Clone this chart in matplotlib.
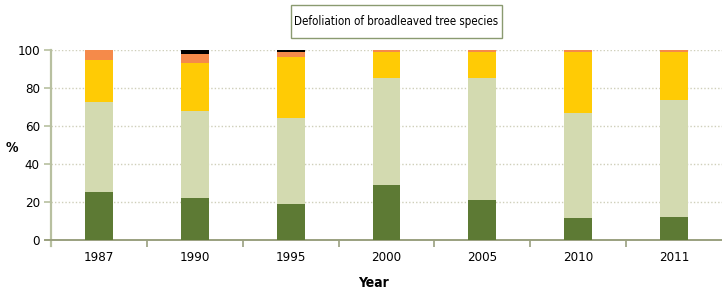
import matplotlib
matplotlib.use("Agg")
import matplotlib.pyplot as plt
from matplotlib.patches import Rectangle

plt.rcParams['font.family'] = ['DejaVu Sans']
plt.rcParams['font.stretch'] = 'condensed'

years = ["1987", "1990", "1995", "2000", "2005", "2010", "2011"]
class0 = [25.5, 22.3, 19.2, 29.2, 20.8, 11.8, 12.3]
class1 = [47.0, 45.5, 44.9, 56.2, 64.6, 54.9, 61.3]
class2 = [22.2, 25.3, 32.1, 13.4, 13.4, 32.1, 25.2]
class3 = [5.3, 4.8, 2.6, 1.2, 1.2, 1.2, 1.2]
class4 = [0.0, 2.1, 1.2, 0.0, 0.0, 0.0, 0.0]

series = [class0, class1, class2, class3, class4]
colors = ["#5d7a34", "#d3dab0", "#ffcb05", "#f58a4a", "#000000"]

fig = plt.figure(figsize=(7.22, 2.9), dpi=100)
ax = fig.add_axes([51/722, 50/290, 671/722, 190/290])

x = range(len(years))
bottom = [0.0]*len(years)
for vals, c in zip(series, colors):
    ax.bar(x, vals, bottom=bottom, width=0.29, color=c, zorder=3, linewidth=0)
    bottom = [b + v for b, v in zip(bottom, vals)]

ax.set_xlim(-0.5, len(years) - 0.5)
ax.set_ylim(0, 100)
ax.set_yticks([0, 20, 40, 60, 80, 100])
ax.set_xticks(list(x))
ax.set_xticklabels(years)
ax.set_xticks([i + 0.5 for i in range(len(years) - 1)], minor=True)
ax.tick_params(axis='x', which='major', length=0, labelsize=9.5, pad=8)
ax.tick_params(axis='x', which='minor', length=5, width=1.2, color="#9aa07f", direction='out')
ax.tick_params(axis='y', length=5, width=1.2, color="#b8c0a0", labelsize=9.5, pad=3)

ax.yaxis.grid(True, linestyle=(0, (1, 1.5)), color="#cfcfba", linewidth=1.0, zorder=0)
for s in ["top", "right"]:
    ax.spines[s].set_visible(False)
ax.spines["left"].set_color("#b8c0a0")
ax.spines["left"].set_linewidth(1.6)
ax.spines["left"].set_bounds(-3, 100)
ax.spines["bottom"].set_color("#9aa07f")
ax.spines["bottom"].set_linewidth(1.4)
ax.spines["bottom"].set_bounds(-0.56, len(years) - 0.5)

fig.text(373/722, 1 - 283/290, "Year", ha="center", va="center",
         fontsize=10, fontweight="bold")
fig.text(12/722, 1 - 148/290, "%", ha="center", va="center",
         fontsize=10, fontweight="bold")

fig.patches.append(Rectangle((291/722, 1 - 38/290), 211/722, 33/290,
                             transform=fig.transFigure, fill=False,
                             edgecolor="#8a9a70", linewidth=1.0))
fig.text(396/722, 1 - 21.5/290, "Defoliation of broadleaved tree species",
         ha="center", va="center", fontsize=8.3)

fig.savefig("out.png", dpi=100)
